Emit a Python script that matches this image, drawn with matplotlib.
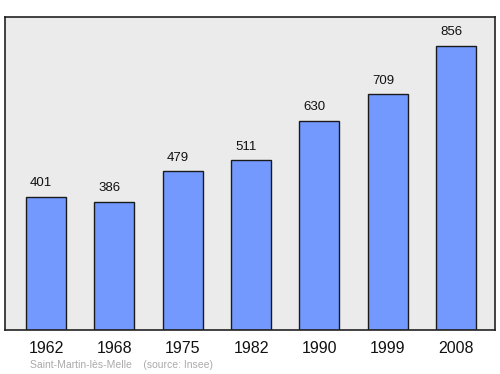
import matplotlib.pyplot as plt

# Population data
years = ["1962", "1968", "1975", "1982", "1990", "1999", "2008"]
population = [401, 386, 479, 511, 630, 709, 856]

plt.rcParams["font.family"] = ["Liberation Sans", "DejaVu Sans"]

fig = plt.figure(figsize=(5, 3.74), dpi=100)
ax = fig.add_axes([0.01, 0.1176, 0.98, 0.837])
ax.set_facecolor("#ebebeb")

x = range(len(years))
ax.bar(x, population, width=0.585, color="#7399ff", edgecolor="#1a1a1a", linewidth=1)

for xi, v in zip(x, population):
    ax.text(xi - 0.07, v + 22, str(v), ha="center", va="bottom", fontsize=9.5, color="#111111")

ax.set_xlim(-0.6, 6.57)
ax.set_ylim(0, 942)
ax.set_xticks(list(x))
ax.set_xticklabels(years, fontsize=11.5, color="#111111")
ax.tick_params(axis="x", length=0, pad=8)
ax.set_yticks([])
for s in ax.spines.values():
    s.set_linewidth(1.2)
    s.set_color("#222222")

fig.text(0.06, 0.017, "Saint-Martin-lès-Melle    (source: Insee)", fontsize=7.5, color="#aaaaaa")

fig.savefig("out.png", dpi=100)
